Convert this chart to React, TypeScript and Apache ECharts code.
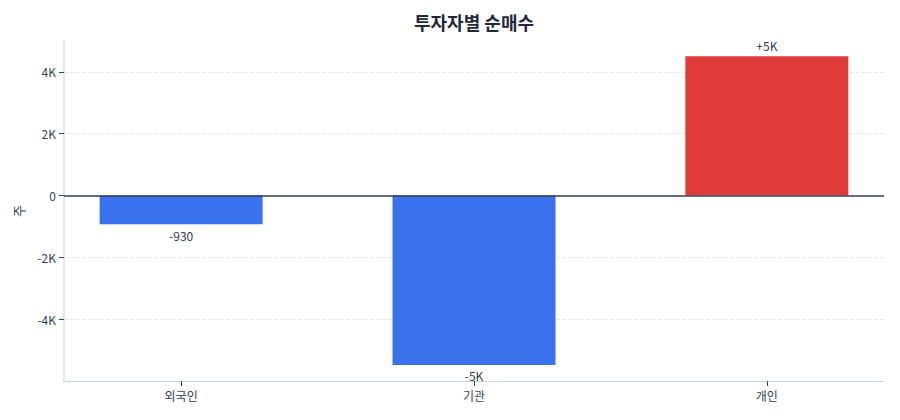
import { BarChart } from 'echarts/charts'
import { GridComponent, MarkLineComponent, TitleComponent } from 'echarts/components'
import * as echarts from 'echarts/core'
import type { EChartsCoreOption } from 'echarts/core'
import { SVGRenderer } from 'echarts/renderers'
import { useEffect, useRef } from 'react'

echarts.use([BarChart, GridComponent, MarkLineComponent, SVGRenderer, TitleComponent])

const investors = ['외국인', '기관', '개인']
const netBuy = [-930, -5480, 4510]
const yTicks = [-4000, -2000, 0, 2000, 4000]

const fontFamily = "'Noto Sans CJK KR', 'Noto Sans', sans-serif"
const textColor = '#374151'

export default function App() {
  const chartRef = useRef<HTMLDivElement>(null)

  useEffect(() => {
    const element = chartRef.current
    if (!element) return
    const instance = echarts.init(element, null, { renderer: 'svg' })
    instance.setOption(buildOption())
    return () => instance.dispose()
  }, [])

  return (
    <div
      ref={chartRef}
      style={{ position: 'fixed', left: 0, top: 0, width: 900, height: 420, background: '#fff' }}
    />
  )
}

function buildOption(): EChartsCoreOption {
  const categoryIndexes = investors.map((_, i) => i)
  return {
    animation: false,
    backgroundColor: '#ffffff',
    textStyle: { fontFamily },
    title: {
      text: '투자자별 순매수',
      left: 469,
      top: 8,
      textAlign: 'center',
      textStyle: { fontSize: 18, fontWeight: 'bold', color: '#1f2937', fontFamily },
    },
    grid: { left: 64, right: 16, top: 41, bottom: 39, containLabel: false },
    xAxis: {
      type: 'value',
      min: -0.4,
      max: 2.4,
      axisLine: { onZero: false, lineStyle: { color: '#cbd5e1', width: 1 } },
      axisTick: { show: true, customValues: categoryIndexes, length: 5, lineStyle: { color: textColor } },
      axisLabel: {
        customValues: categoryIndexes,
        formatter: (value: number) => investors[Math.round(value)] ?? '',
        color: textColor,
        fontSize: 12,
        margin: 8,
      },
      splitLine: { show: false },
    },
    yAxis: {
      type: 'value',
      min: -6000,
      max: 5000,
      interval: 2000,
      name: '주',
      nameLocation: 'middle',
      nameRotate: 90,
      nameGap: 39,
      nameTextStyle: { color: textColor, fontSize: 13 },
      axisLine: { show: true, onZero: false, lineStyle: { color: '#e2e5ea', width: 2 } },
      axisTick: { show: true, customValues: yTicks, length: 5, lineStyle: { color: textColor } },
      axisLabel: {
        customValues: yTicks,
        formatter: (value: number) => (value === 0 ? '0' : `${value / 1000}K`),
        color: textColor,
        fontSize: 12,
        margin: 8,
      },
      splitLine: {
        show: true,
        lineStyle: { color: '#e5e7eb', type: 'dashed', width: 1 },
      },
    },
    series: [
      {
        type: 'bar',
        barWidth: 163,
        data: netBuy.map((value, i) => ({
          value: [i, value],
          itemStyle: { color: value < 0 ? '#2563eb' : '#dc2626', opacity: 0.9 },
          label: { position: value < 0 ? 'bottom' : 'top' },
        })),
        label: {
          show: true,
          distance: 5,
          color: '#111827',
          fontSize: 12,
          formatter: (params: { value: number[] }) => formatValue(params.value[1]),
        },
        markLine: {
          silent: true,
          symbol: 'none',
          label: { show: false },
          lineStyle: { color: '#334155', width: 1.5, type: 'solid' },
          data: [{ yAxis: 0 }],
        },
      },
    ],
  }
}

function formatValue(value: number) {
  const sign = value > 0 ? '+' : value < 0 ? '-' : ''
  const abs = Math.abs(value)
  if (abs >= 1000) return `${sign}${Math.round(abs / 1000)}K`
  return `${sign}${abs}`
}
